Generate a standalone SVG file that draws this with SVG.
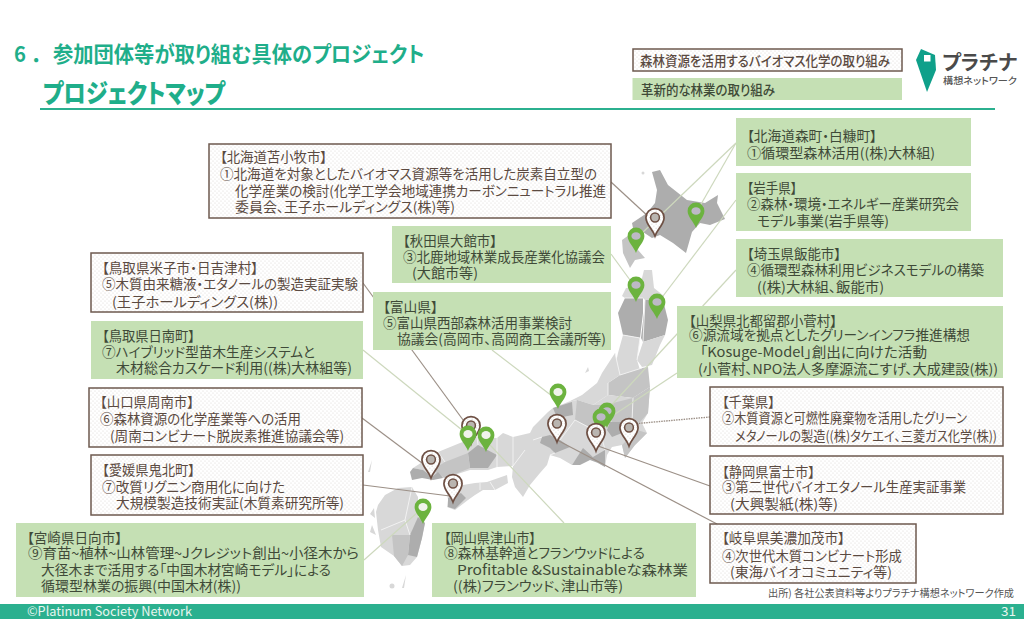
<svg xmlns="http://www.w3.org/2000/svg" xmlns:xlink="http://www.w3.org/1999/xlink" width="1024" height="628" viewBox="0 0 1024 628">
<style>
text{font-family:"Noto Sans CJK JP","Noto Sans",sans-serif;font-feature-settings:"palt"}
.g{fill:#c5e0b4}
.d{fill:url(#dots);stroke:#6e5a4f;stroke-width:1.5}
.tb{font-size:13.6px;fill:#5b4a41}
.tg{font-size:13.6px;fill:#3f4a38}
.title{font-weight:700;fill:#1fae8a}
.m1{fill:#adadad}.m2{fill:#c4c4c4}.m3{fill:#d8d8d8}
.bd{fill:none;stroke:#f4f4f4;stroke-width:.9}
.cg{stroke:#cdd8bd;stroke-width:1.2;fill:none}
.cb{stroke:#9c9087;stroke-width:1.2;fill:none}
.cd{stroke:#9c9087;stroke-width:1.4;stroke-dasharray:1.5 1;fill:none}
</style>
<defs>
<filter id="soft" x="-5%" y="-5%" width="110%" height="110%"><feGaussianBlur stdDeviation="0.55"/></filter>
<pattern id="dots" width="4" height="4" patternUnits="userSpaceOnUse">
<rect width="4" height="4" fill="#fff"/><circle cx="1" cy="1" r=".6" fill="#dbd8d4"/><circle cx="3" cy="3" r=".6" fill="#dbd8d4"/>
</pattern>
<path id="pinshape" d="M0,0C-2,-6 -8.4,-11 -8.4,-17A8.4,8.4 0 1 1 8.4,-17C8.4,-11 2,-6 0,0Z"/>
<g id="pg"><use xlink:href="#pinshape" href="#pinshape" fill="#6cb33f"/><ellipse cx="0" cy="-17" rx="4.6" ry="3.8" fill="#bdb9c6"/></g>
<g id="pw"><use xlink:href="#pinshape" href="#pinshape" fill="#6cb33f"/><ellipse cx="0" cy="-17" rx="4.6" ry="4" fill="#f1f3ec"/></g>
<g id="pb"><use xlink:href="#pinshape" href="#pinshape" fill="url(#dots)" stroke="#6e5044" stroke-width="1.6" transform="scale(1.08)"/><circle cx="0" cy="-18.500" r="4.400" fill="#b9b5b0" stroke="#6e5044" stroke-width="1.5"/></g>
</defs>
<rect width="1024" height="628" fill="#fff"/>

<g id="header">
<text class="title" transform="translate(14,62) scale(.944,1)" font-size="21.500">6<tspan dx="8">．</tspan><tspan x="41.300">参加団体等が取り組む具体のプロジェクト</tspan></text>
<text class="title" x="43" y="102.500" style="font-size:26px;font-weight:900" textLength="182" lengthAdjust="spacingAndGlyphs">プロジェクトマップ</text>
<rect x="40" y="108" width="955" height="2" fill="#2bb08f"/>
</g>

<g id="map" filter="url(#soft)">
<path class="m1" d="M652,172L660,170L668,185L687,200L705,203L718,195L717,203L725,219L710,225L700,223L692,232L686,253L673,243L660,235L652,238L643,232L633,228L632,223L647,213L655,203L657,190Z"/>
<path class="m2" d="M622,240L632,233L640,236L638,250L645,258L635,260L630,268L623,253Z"/>
<path class="m3" d="M622,296L626,288L640,286L644,270L652,270L654,288L664,296L663,300L645,300L643,298L625,298Z"/>
<path class="m1" d="M625,298L643,298L643,313L640,338L623,335L618,313Z"/>
<path class="m1" d="M645,300L663,300L668,320L665,335L643,342L641,338L644,313Z"/>
<path class="m3" d="M623,335L640,338L637,360L640,370L620,375L615,367L618,353Z"/>
<path class="m3" d="M643,342L665,335L660,345L652,365L642,367L637,360Z"/>
<path class="m2" d="M620,375L642,368L648,367L650,387L633,398L608,395L608,383Z"/>
<path class="m3" d="M615,353L620,375L608,383L608,395L593,405L577,400L568,402L582,395L597,383L602,373Z"/>
<path class="m3" d="M568,402L577,400L593,405L608,395L633,398L650,387L648,413L642,423L647,433L635,445L625,458L622,445L612,447L607,455L605,467L598,463L593,457L583,450L572,465L560,458L550,455L547,465L540,473L530,485L523,497L515,487L512,477L513,466L497,467L488,470L470,470L445,478L432,477L422,470L413,468L438,452L460,443L477,437L497,438L503,433L513,437L530,433L533,427L540,420L548,412L553,408Z"/>
<path class="m2" d="M605,405L633,398L650,387L648,413L640,422L610,422Z"/>
<path class="m1" d="M610,422L638,422L637,430L622,433L612,437L607,430Z"/>
<path class="m2" d="M637,430L647,433L635,445L625,458L622,445Z"/>
<path class="m2" d="M577,400L593,405L605,405L610,422L600,430L585,425L575,420Z"/>
<path class="m1" d="M553,408L572,402L573,415L557,418Z"/>
<path class="m1" d="M542,437L550,435L560,440L570,447L555,453L550,448L540,443Z"/>
<path class="m1" d="M572,465L583,448L593,457L605,450L605,467L598,463L590,460L580,465Z"/>
<path class="m1" d="M468,453L478,445L497,455L488,468L470,468Z"/>
<path class="m2" d="M445,462L468,453L470,468L445,478L432,470Z"/>
<path class="m1" d="M410,472L413,468L423,470L432,477L438,472L443,478L433,480L422,478L412,480Z"/>
<path class="m3" d="M452,490L463,485L475,483L487,482L507,475L508,483L495,490L483,490L475,495L468,500L455,510L447,507L448,500L447,493Z"/>
<path class="m1" d="M448,498L461,493L466,498L455,509L448,507Z"/>
<path class="m3" d="M378,505L385,495L398,488L412,487L418,497L418,517L425,523L422,538L417,557L410,565L402,566L394,556L381,547L378,530L376,512Z"/>
<path class="m1" d="M418,517L425,523L422,538L417,557L408,555L410,535Z"/>
<path class="m2" d="M392,535L410,535L408,555L402,566L394,556Z"/>
<path class="m3" d="M588,367L585,373L589,371ZM372,460L368,472L370,472ZM406,575L402,588L404,588ZM374,508L370,514L375,518ZM372,525L370,532L376,535Z"/>
<circle class="m3" cx="392" cy="586" r="2.5"/>
<circle class="m3" cx="643" cy="173" r="1.5"/>
<path class="bd" d="M625,298L643,298M645,300L643,342M640,338L623,335M640,338L637,360M620,375L642,368M615,353L620,375M608,383L608,395M633,398L632,422M607,405L611,422M575,420L590,428L600,430L605,450M560,440L575,420M542,437L533,440M550,455L555,453M525,450L513,466M513,437L513,466M497,438L497,467M478,445L477,437M445,462L438,452M480,490L480,483M495,490L490,482M412,487L405,520L381,530M405,520L410,535"/>
</g>

<g id="connectors">
<line class="cg" x1="736" y1="143" x2="696" y2="213"/>
<line class="cg" x1="736" y1="143" x2="640" y2="235"/>
<line class="cg" x1="736" y1="200" x2="660" y2="300"/>
<line class="cg" x1="736" y1="270" x2="607" y2="410"/>
<line class="cg" x1="677" y1="373" x2="603" y2="422"/>
<line class="cg" x1="611" y1="254" x2="630" y2="280"/>
<line class="cg" x1="492" y1="350" x2="552" y2="396"/>
<line class="cg" x1="564" y1="523" x2="490" y2="445"/>
<line class="cg" x1="363" y1="350" x2="462" y2="430"/>
<line class="cg" x1="364" y1="560" x2="418" y2="512"/>
<line class="cb" x1="611" y1="182" x2="650" y2="218"/>
<line class="cb" x1="363" y1="283" x2="466" y2="424"/>
<line class="cb" x1="362" y1="418" x2="426" y2="466"/>
<line class="cb" x1="363" y1="485" x2="450" y2="496"/>
<line class="cd" x1="710" y1="417" x2="632" y2="424"/>
<line class="cb" x1="710" y1="486" x2="598" y2="446"/>
<line class="cb" x1="717" y1="524" x2="557" y2="440"/>
</g>

<g id="legend-biomass"><rect class="d" x="633" y="49" width="269" height="22"/><text class="tb" style="font-weight:500" font-size="12.500" x="640" y="65.500" textLength="250" lengthAdjust="spacingAndGlyphs">森林資源を活用するバイオマス化学の取り組み</text></g>
<g id="legend-forestry"><rect class="g" x="632.500" y="78" width="269.500" height="22"/><text class="tg" style="font-weight:500" font-size="12.500" x="641" y="94.500" textLength="134" lengthAdjust="spacingAndGlyphs">革新的な林業の取り組み</text></g>

<g id="logo">
<path d="M921,49L935,55L936,70L927,92L916,60Z" fill="#0fa08a"/>
<rect x="924" y="55" width="6.500" height="6.500" fill="#fff"/>
<text x="942" y="70" font-size="20" font-weight="700" fill="#4a4a4a" textLength="75" lengthAdjust="spacingAndGlyphs">プラチナ</text>
<text x="943" y="84" font-size="9.500" font-weight="500" fill="#555" textLength="74" lengthAdjust="spacingAndGlyphs">構想ネットワーク</text>
</g>

<g id="n-tomakomai"><rect class="d" x="209" y="144" width="402" height="74"/>
<text class="tb" x="220" y="162" textLength="107" lengthAdjust="spacingAndGlyphs">【北海道苫小牧市】</text>
<text class="tb" x="220" y="179" textLength="377" lengthAdjust="spacingAndGlyphs">①北海道を対象としたバイオマス資源等を活用した炭素自立型の</text>
<text class="tb" x="235" y="196" textLength="371" lengthAdjust="spacingAndGlyphs">化学産業の検討(化学工学会地域連携カーボンニュートラル推進</text>
<text class="tb" x="235" y="212" textLength="220" lengthAdjust="spacingAndGlyphs">委員会、王子ホールディングス(株)等)</text></g>

<g id="n-moricho"><rect class="g" x="736" y="118" width="235" height="48"/>
<text class="tg" x="747" y="141" textLength="130" lengthAdjust="spacingAndGlyphs">【北海道森町・白糠町】</text>
<text class="tg" x="747" y="158" textLength="188" lengthAdjust="spacingAndGlyphs">①循環型森林活用((株)大林組)</text></g>

<g id="n-iwate"><rect class="g" x="736" y="173" width="235" height="58"/>
<text class="tg" x="747" y="193" textLength="50" lengthAdjust="spacingAndGlyphs">【岩手県】</text>
<text class="tg" x="747" y="209" textLength="212" lengthAdjust="spacingAndGlyphs">②森林・環境・エネルギー産業研究会</text>
<text class="tg" x="757" y="226" textLength="132" lengthAdjust="spacingAndGlyphs">モデル事業(岩手県等)</text></g>

<g id="n-saitama"><rect class="g" x="736" y="239" width="267" height="58"/>
<text class="tg" x="747" y="259" textLength="94" lengthAdjust="spacingAndGlyphs">【埼玉県飯能市】</text>
<text class="tg" x="747" y="275" textLength="237" lengthAdjust="spacingAndGlyphs">④循環型森林利用ビジネスモデルの構築</text>
<text class="tg" x="757" y="292" textLength="127" lengthAdjust="spacingAndGlyphs">((株)大林組、飯能市)</text></g>

<g id="n-yamanashi"><rect class="g" x="677" y="306" width="326" height="72"/>
<text class="tg" x="689" y="326" textLength="148" lengthAdjust="spacingAndGlyphs">【山梨県北都留郡小菅村】</text>
<text class="tg" x="689" y="340" textLength="281" lengthAdjust="spacingAndGlyphs">⑥源流域を拠点としたグリーンインフラ推進構想</text>
<text class="tg" x="700" y="357" textLength="227" lengthAdjust="spacingAndGlyphs">「Kosuge-Model」創出に向けた活動</text>
<text class="tg" x="698" y="374" textLength="300" lengthAdjust="spacingAndGlyphs">(小菅村、NPO法人多摩源流こすげ、大成建設(株))</text></g>

<g id="n-chiba"><rect class="d" x="710" y="387" width="293" height="59"/>
<text class="tb" x="722" y="407" textLength="53" lengthAdjust="spacingAndGlyphs">【千葉県】</text>
<text class="tb" x="722" y="423" textLength="245" lengthAdjust="spacingAndGlyphs">②木質資源と可燃性廃棄物を活用したグリーン</text>
<text class="tb" x="735" y="441" textLength="262" lengthAdjust="spacingAndGlyphs">メタノールの製造((株)タケエイ、三菱ガス化学(株))</text></g>

<g id="n-shizuoka"><rect class="d" x="710" y="456" width="293" height="58"/>
<text class="tb" x="722" y="477" textLength="93" lengthAdjust="spacingAndGlyphs">【静岡県富士市】</text>
<text class="tb" x="722" y="492" textLength="244" lengthAdjust="spacingAndGlyphs">③第二世代バイオエタノール生産実証事業</text>
<text class="tb" x="730" y="509" textLength="108" lengthAdjust="spacingAndGlyphs">(大興製紙(株)等)</text></g>

<g id="n-gifu"><rect class="d" x="710" y="524" width="206" height="59"/>
<text class="tb" x="722" y="543" textLength="123" lengthAdjust="spacingAndGlyphs">【岐阜県美濃加茂市】</text>
<text class="tb" x="722" y="561" textLength="180" lengthAdjust="spacingAndGlyphs">④次世代木質コンビナート形成</text>
<text class="tb" x="730" y="577" textLength="162" lengthAdjust="spacingAndGlyphs">(東海バイオコミュニティ等)</text></g>

<g id="n-akita"><rect class="g" x="392" y="226" width="219" height="57"/>
<text class="tg" x="403" y="246" textLength="94" lengthAdjust="spacingAndGlyphs">【秋田県大館市】</text>
<text class="tg" x="403" y="262" textLength="202" lengthAdjust="spacingAndGlyphs">③北鹿地域林業成長産業化協議会</text>
<text class="tg" x="412" y="278" textLength="66" lengthAdjust="spacingAndGlyphs">(大館市等)</text></g>

<g id="n-toyama"><rect class="g" x="373" y="292" width="238" height="58"/>
<text class="tg" x="383" y="312" textLength="55" lengthAdjust="spacingAndGlyphs">【富山県】</text>
<text class="tg" x="383" y="328" textLength="189" lengthAdjust="spacingAndGlyphs">⑤富山県西部森林活用事業検討</text>
<text class="tg" x="397" y="344" textLength="209" lengthAdjust="spacingAndGlyphs">協議会(高岡市、高岡商工会議所等)</text></g>

<g id="n-yonago"><rect class="d" x="91" y="253" width="272" height="59"/>
<text class="tb" x="102" y="273" textLength="156" lengthAdjust="spacingAndGlyphs">【鳥取県米子市・日吉津村】</text>
<text class="tb" x="102" y="289" textLength="256" lengthAdjust="spacingAndGlyphs">⑤木質由来糖液・エタノールの製造実証実験</text>
<text class="tb" x="112" y="307" textLength="166" lengthAdjust="spacingAndGlyphs">(王子ホールディングス(株))</text></g>

<g id="n-hinan"><rect class="g" x="91" y="321" width="272" height="58"/>
<text class="tg" x="102" y="341" textLength="93" lengthAdjust="spacingAndGlyphs">【鳥取県日南町】</text>
<text class="tg" x="102" y="357" textLength="213" lengthAdjust="spacingAndGlyphs">⑦ハイブリッド型苗木生産システムと</text>
<text class="tg" x="116" y="373" textLength="236" lengthAdjust="spacingAndGlyphs">木材総合カスケード利用((株)大林組等)</text></g>

<g id="n-yamaguchi"><rect class="d" x="89" y="388" width="273" height="59"/>
<text class="tb" x="100" y="407" textLength="94" lengthAdjust="spacingAndGlyphs">【山口県周南市】</text>
<text class="tb" x="100" y="424" textLength="201" lengthAdjust="spacingAndGlyphs">⑥森林資源の化学産業等への活用</text>
<text class="tb" x="110" y="441" textLength="234" lengthAdjust="spacingAndGlyphs">(周南コンビナート脱炭素推進協議会等)</text></g>

<g id="n-ehime"><rect class="d" x="91" y="455" width="272" height="60"/>
<text class="tb" x="102" y="475" textLength="93" lengthAdjust="spacingAndGlyphs">【愛媛県鬼北町】</text>
<text class="tb" x="102" y="492" textLength="183" lengthAdjust="spacingAndGlyphs">⑦改質リグニン商用化に向けた</text>
<text class="tb" x="116" y="508" textLength="228" lengthAdjust="spacingAndGlyphs">大規模製造技術実証(木質素研究所等)</text></g>

<g id="n-miyazaki"><rect class="g" x="16" y="523" width="348" height="74"/>
<text class="tg" x="27" y="543" textLength="95" lengthAdjust="spacingAndGlyphs">【宮崎県日向市】</text>
<text class="tg" x="28" y="558" textLength="331" lengthAdjust="spacingAndGlyphs">⑨育苗~植林~山林管理~Jクレジット創出~小径木から</text>
<text class="tg" x="41" y="575" textLength="290" lengthAdjust="spacingAndGlyphs">大径木まで活用する「中国木材宮崎モデル」による</text>
<text class="tg" x="41" y="591" textLength="200" lengthAdjust="spacingAndGlyphs">循環型林業の振興(中国木材(株))</text></g>

<g id="n-okayama"><rect class="g" x="432" y="523" width="264" height="74"/>
<text class="tg" x="444" y="543" textLength="92" lengthAdjust="spacingAndGlyphs">【岡山県津山市】</text>
<text class="tg" x="444" y="558" textLength="201" lengthAdjust="spacingAndGlyphs">⑧森林基幹道とフランウッドによる</text>
<text class="tg" x="457" y="575" textLength="231" lengthAdjust="spacingAndGlyphs">Profitable &amp;Sustainableな森林業</text>
<text class="tg" x="453" y="591" textLength="170" lengthAdjust="spacingAndGlyphs">((株)フランウッド、津山市等)</text></g>

<g id="pins">
<use id="pin-kushiro" href="#pg" xlink:href="#pg" x="696" y="228"/>
<use id="pin-mori" href="#pg" xlink:href="#pg" x="636" y="253"/>
<use id="pin-tomakomai" href="#pb" xlink:href="#pb" x="655" y="236"/>
<use id="pin-odate" href="#pg" xlink:href="#pg" x="636" y="302"/>
<use id="pin-iwate" href="#pg" xlink:href="#pg" x="657" y="319"/>
<use id="pin-toyama" href="#pw" xlink:href="#pw" x="558" y="409"/>
<use id="pin-hanno" href="#pg" xlink:href="#pg" x="607" y="428"/>
<use id="pin-kosuge" href="#pg" xlink:href="#pg" x="601" y="434"/>
<use id="pin-minokamo" href="#pb" xlink:href="#pb" x="557" y="442"/>
<use id="pin-fuji" href="#pb" xlink:href="#pb" x="596" y="451"/>
<use id="pin-chiba" href="#pb" xlink:href="#pb" x="629" y="446"/>
<use id="pin-yonago" href="#pb" xlink:href="#pb" x="471" y="444"/>
<use id="pin-hinan" href="#pw" xlink:href="#pw" x="468" y="451"/>
<use id="pin-tsuyama" href="#pw" xlink:href="#pw" x="486" y="452"/>
<use id="pin-shunan" href="#pb" xlink:href="#pb" x="431" y="478"/>
<use id="pin-kihoku" href="#pb" xlink:href="#pb" x="453" y="502"/>
<use id="pin-hyuga" href="#pw" xlink:href="#pw" x="423" y="524"/>
</g>

<g id="source"><text x="768" y="597" font-size="10.500" fill="#555" textLength="246" lengthAdjust="spacingAndGlyphs">出所) 各社公表資料等よりプラチナ構想ネットワーク作成</text></g>
<g id="footer">
<rect x="0" y="604" width="1024" height="15" fill="#2bb08f"/>
<text x="27" y="616" font-size="13" fill="#e8f5f0" textLength="165" lengthAdjust="spacingAndGlyphs">©Platinum Society Network</text>
<text x="1001" y="616" font-size="12.500" fill="#e8f5f0" textLength="15" lengthAdjust="spacingAndGlyphs">31</text>
</g>
</svg>
